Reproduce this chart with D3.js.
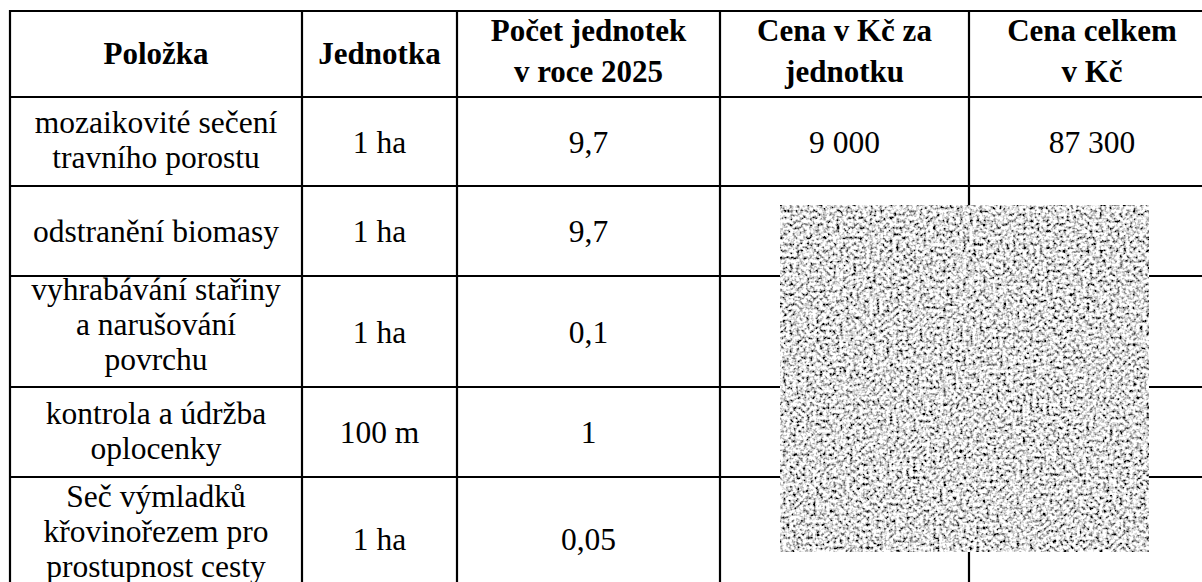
<!DOCTYPE html>
<html>
<head>
<meta charset="utf-8">
<script src="https://cdn.jsdelivr.net/npm/d3@7"></script>
<style>
  html, body { margin: 0; padding: 0; background: #fff; }
  svg { display: block; }
</style>
</head>
<body>
<svg id="chart" width="1202" height="582"></svg>
<script>
// ---- data ----
const headers = [
  ["Položka"],
  ["Jednotka"],
  ["Počet jednotek", "v roce 2025"],
  ["Cena v Kč za", "jednotku"],
  ["Cena celkem", "v Kč"]
];
const items = [
  ["mozaikovité sečení", "travního porostu"],
  ["odstranění biomasy"],
  ["vyhrabávání stařiny", "a narušování", "povrchu"],
  ["kontrola a údržba", "oplocenky"],
  ["Seč výmladků", "křovinořezem pro", "prostupnost cesty"]
];
const units = ["1 ha", "1 ha", "1 ha", "100 m", "1 ha"];
const counts = ["9,7", "9,7", "0,1", "1", "0,05"];
const unitPrices = ["9 000", "", "", "", ""];
const totals = ["87 300", "", "", "", ""];

// ---- layout ----
const colEdges = [10, 302, 457, 720, 969, 1215];
const rowEdges = [11, 97, 186, 276, 387, 477, 600];
const redact = { x0: 780, y0: 205, x1: 1149, y1: 552 };
const FONT = '"Liberation Serif"';

const svg = d3.select("#chart");

const defs = svg.append("defs");
const f = defs.append("filter").attr("id", "noise")
  .attr("x", 0).attr("y", 0).attr("width", "100%").attr("height", "100%");
f.append("feTurbulence").attr("type", "fractalNoise")
  .attr("baseFrequency", 0.3).attr("numOctaves", 2).attr("seed", 11).attr("result", "t");
f.append("feColorMatrix").attr("in", "t").attr("type", "matrix").attr("result", "g")
  .attr("values", "2.9 0 0 0 -0.72  2.9 0 0 0 -0.72  2.9 0 0 0 -0.72  0 0 0 0 1");
f.append("feGaussianBlur").attr("in", "g").attr("stdDeviation", 0.4);

const rowsText = items.map((it, i) => [it, [units[i]], [counts[i]], [unitPrices[i]], [totals[i]]]);

const xCenter = c => (colEdges[c] + colEdges[c + 1]) / 2;
const yCenter = r => (rowEdges[r] + rowEdges[r + 1]) / 2;

// grid lines
const gGrid = svg.append("g").attr("stroke", "#000").attr("stroke-width", 2.2);
gGrid.selectAll("line.h").data(rowEdges.slice(0, -1)).join("line")
  .attr("x1", colEdges[0] - 1).attr("x2", colEdges[colEdges.length - 1] + 1)
  .attr("y1", d => d).attr("y2", d => d);
gGrid.selectAll("line.v").data(colEdges).join("line")
  .attr("x1", d => d).attr("x2", d => d)
  .attr("y1", rowEdges[0] - 1).attr("y2", rowEdges[rowEdges.length - 1]);

// header
const gHead = svg.append("g");
headers.forEach((lines, c) => {
  const n = lines.length;
  gHead.selectAll(null).data(lines).join("text")
    .style("font-family", FONT).style("font-weight", "bold").style("font-size", "31px")
    .attr("text-anchor", "middle").attr("fill", "#000")
    .attr("x", xCenter(c))
    .attr("y", (d, i) => yCenter(0) + (n === 1 ? 9.5 : 7) + (i - (n - 1) / 2) * 41)
    .text(d => d);
});

// body
const gBody = svg.append("g");
rowsText.forEach((cells, r) => {
  cells.forEach((lines, c) => {
    const n = lines.length;
    const k = n === 1 ? 11 : (n === 2 ? 9 : 3);
    gBody.selectAll(null).data(lines).join("text")
      .style("font-family", FONT).style("font-size", "31.5px")
      .attr("text-anchor", "middle").attr("fill", "#000")
      .attr("x", xCenter(c))
      .attr("y", (d, i) => yCenter(r + 1) + k + (i - (n - 1) / 2) * 35)
      .text(d => d);
  });
});

// redaction patch
svg.append("rect")
  .attr("x", redact.x0).attr("y", redact.y0)
  .attr("width", redact.x1 - redact.x0).attr("height", redact.y1 - redact.y0)
  .attr("fill", "#fff").attr("filter", "url(#noise)");
</script>
</body>
</html>
